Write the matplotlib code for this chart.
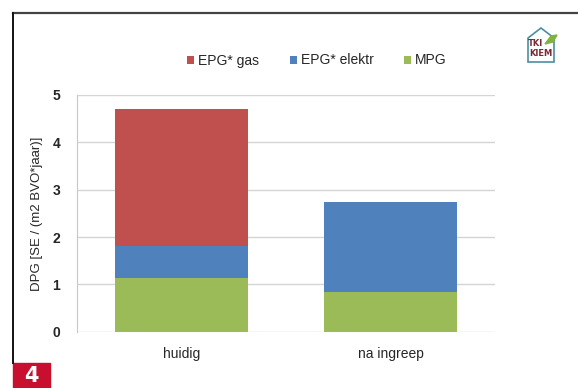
import numpy as np
import matplotlib
matplotlib.use("Agg")
import matplotlib.pyplot as plt
from matplotlib.patches import Rectangle, Polygon

plt.rcParams['font.family'] = ['Liberation Sans Narrow', 'Liberation Sans', 'DejaVu Sans']

categories = ['huidig', 'na ingreep']
mpg = [1.13, 0.83]
epg_elektr = [0.67, 1.90]
epg_gas = [2.91, 0.0]

c_gas = '#C0504D'
c_elektr = '#4F81BD'
c_mpg = '#9BBB59'
txt = '#262626'

fig = plt.figure(figsize=(5.78, 3.88), dpi=100)
ax = fig.add_axes([77 / 578, 1 - 331.7 / 388, 418 / 578, 236.7 / 388])

x = np.arange(len(categories))
w = 0.64
ax.bar(x, mpg, w, color=c_mpg, label='MPG', zorder=3)
ax.bar(x, epg_elektr, w, bottom=mpg, color=c_elektr, label='EPG* elektr', zorder=3)
bottom2 = [a + b for a, b in zip(mpg, epg_elektr)]
ax.bar(x, epg_gas, w, bottom=bottom2, color=c_gas, label='EPG* gas', zorder=3)

ax.set_xlim(-0.5, 1.5)
ax.set_ylim(0, 5)
ax.set_yticks(range(6))
ax.set_xticks(x)
ax.set_xticklabels(categories)
ax.yaxis.grid(True, color='#d4d4d4', lw=1.0, zorder=0)
for s in ['top', 'right', 'bottom']:
    ax.spines[s].set_visible(False)
ax.spines['left'].set_color('#c8c8c8')
ax.tick_params(axis='both', length=0, labelsize=10, colors=txt)
ax.tick_params(axis='y', pad=12)
ax.tick_params(axis='x', pad=11)
for t in ax.get_yticklabels():
    t.set_fontweight('bold')
ax.set_ylabel('DPG [SE / (m2 BVO*jaar)]', fontsize=9.5, color=txt, labelpad=7)

# legend in series order gas, elektr, MPG
h, l = ax.get_legend_handles_labels()
order = [2, 1, 0]
fig.legend([h[i] for i in order], [l[i] for i in order], loc='center',
           bbox_to_anchor=(317 / 578, 1 - 60.5 / 388), ncol=3, frameon=False,
           fontsize=10, handlelength=0.5, handleheight=0.5, handletextpad=0.3,
           columnspacing=2.2, labelcolor=txt)

# page frame lines
fig.add_artist(plt.Line2D([13 / 578, 1], [1 - 13 / 388] * 2, color='#444444', lw=1.6))
fig.add_artist(plt.Line2D([13 / 578] * 2, [1 - 13 / 388, 25 / 388], color='#111111', lw=1.4))

# figure number box
fig.add_artist(Rectangle((13 / 578, 0), 37 / 578, 25 / 388, color='#C8102E',
                         transform=fig.transFigure))
fig.text(31.5 / 578, 12.5 / 388, '4', color='white', fontsize=15, fontweight='bold',
         ha='center', va='center', family='DejaVu Sans')

# small logo top right
house = [(528, 62), (528, 38), (541, 28), (554, 38), (554, 62)]
fig.add_artist(Polygon([(px / 578, 1 - py / 388) for px, py in house], closed=True,
                       fill=False, ec='#4a8fa0', lw=1.2, transform=fig.transFigure))
fig.text(536 / 578, 1 - 43 / 388, 'TKI', color='#7a2a35', fontsize=6, fontweight='bold',
         ha='center', va='center', family='DejaVu Sans')
fig.text(541 / 578, 1 - 53 / 388, 'KIEM', color='#7a2a35', fontsize=6, fontweight='bold',
         ha='center', va='center', family='DejaVu Sans')
fig.add_artist(Polygon([(p[0] / 578, 1 - p[1] / 388) for p in
                        [(545, 44), (551, 36), (557, 35), (553, 42)]],
                       closed=True, color='#7fb241', transform=fig.transFigure))

fig.savefig('out.png', dpi=100)
